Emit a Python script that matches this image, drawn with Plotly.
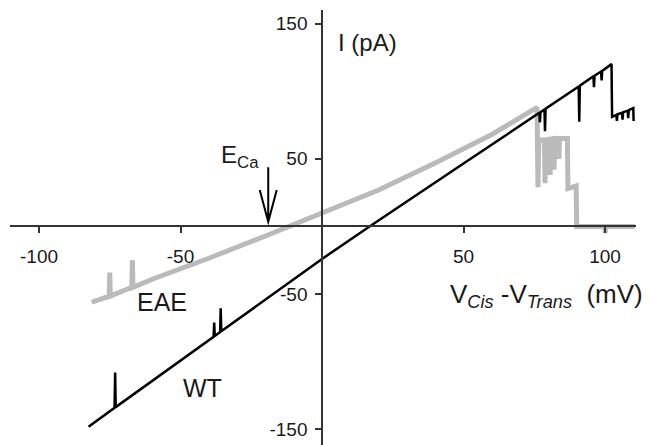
import plotly.graph_objects as go

# I-V traces (voltage in mV, current in pA)
wt_v = [-82.5, -73.3, -73.1, -72.9, -38.3, -38.1, -37.9, -36.0, -35.8, -35.6,
        0, 16.8, 50, 76.8, 77.0, 77.2, 78.6, 78.8, 79.0, 90.7, 90.9, 91.1,
        95.9, 96.1, 96.3, 98.6, 98.8, 99.0, 102.3, 102.5, 104, 104.2, 104.4,
        106, 106.2, 106.4, 108, 108.2, 108.4, 110, 110.1]
wt_i = [-148, -134, -108, -133.5, -81.5, -71, -81, -78, -60.5, -77.5,
        -24, 0, 46.5, 84, 77, 84.5, 86.5, 70.5, 87, 103.5, 77.5, 104,
        111, 103, 111.5, 114.5, 108, 115, 120, 81, 82.5, 78, 83,
        84, 79, 84.5, 85.5, 80, 86, 87.5, 78]

eae_v = [-81.4, -75.2, -75.0, -74.8, -67.2, -67.0, -66.8, -60, -40, -20, -13,
         0, 20, 40, 60, 76, 76.3, 76.6, 78.6, 78.8, 79.0, 80.4, 80.6, 80.8,
         81.8, 82.0, 82.2, 83.5, 83.7, 83.9, 86.7, 86.9, 89.8, 90.0, 100,
         100.1, 100.2, 110.6]
eae_i = [-56, -51.5, -34, -51.5, -45, -25, -45, -39, -23.5, -7, -1,
         9.5, 27, 47, 68, 88, 29, 64, 64, 32, 64, 64.5, 38, 64.5,
         65, 42, 65, 65, 50, 65, 65, 28, 30, 0, 0,
         -5, 0, 0]

x_ticks = [-100, -50, 50, 100]
x_labels = ["-100", "-50", "50", "100"]
y_ticks = [150, 50, -50, -150]
y_labels = ["150", "50", "-50", "-150"]

x_min, x_max = -110.25, 110.95
y_min, y_max = -161.5, 160.0

font = "Arial, Liberation Sans, sans-serif"

fig = go.Figure()
fig.add_trace(go.Scatter(x=eae_v, y=eae_i, mode="lines",
                         line=dict(color="#bababa", width=5), name="EAE"))
fig.add_trace(go.Scatter(x=wt_v, y=wt_i, mode="lines",
                         line=dict(color="#000000", width=2.5), name="WT"))

# E_Ca arrow (open V head)
fig.add_shape(type="path", xref="x", yref="y",
              path="M -19,43.7 L -19,3.5 M -22,27 L -19,3.5 L -16,27",
              line=dict(color="black", width=2))

ann = dict(xref="x", yref="y", showarrow=False)
fig.add_annotation(x=4.9, y=136, text="I (pA)", xanchor="left", yanchor="middle",
                   font=dict(family=font, size=24, color="#1a1a1a"), **ann)
fig.add_annotation(x=44.5, y=-51,
                   text="V<sub><i>Cis</i></sub> -V<sub><i>Trans</i></sub>&nbsp;&nbsp;(mV)",
                   xanchor="left", yanchor="middle",
                   font=dict(family=font, size=26, color="#1a1a1a"), **ann)
fig.add_annotation(x=-56.7, y=-56, text="EAE", xanchor="center", yanchor="middle",
                   font=dict(family=font, size=25, color="#1a1a1a"), **ann)
fig.add_annotation(x=-42.2, y=-119, text="WT", xanchor="center", yanchor="middle",
                   font=dict(family=font, size=25, color="#1a1a1a"), **ann)
fig.add_annotation(x=-36.5, y=52, text="E<sub>Ca</sub>", xanchor="left", yanchor="middle",
                   font=dict(family=font, size=24, color="#1a1a1a"), **ann)

# page body adds an 8px offset, so margins are trimmed to compensate
fig.update_layout(
    width=651, height=445,
    margin=dict(l=2, r=23, t=2, b=8),
    paper_bgcolor="white", plot_bgcolor="white",
    showlegend=False,
    font=dict(family=font, size=19, color="#1a1a1a"),
    xaxis=dict(range=[x_min, x_max], anchor="free", automargin=False,
               position=(0 - y_min) / (y_max - y_min),
               showgrid=False, zeroline=False, showline=True,
               linecolor="#333333", linewidth=1.5,
               tickmode="array", tickvals=x_ticks, ticktext=x_labels,
               ticks="outside", ticklen=6, tickwidth=1.5, tickcolor="#333333",
               ticklabelstandoff=7),
    yaxis=dict(range=[y_min, y_max], anchor="free", automargin=False,
               position=(0 - x_min) / (x_max - x_min),
               showgrid=False, zeroline=False, showline=True,
               linecolor="#333333", linewidth=1.5,
               tickmode="array", tickvals=y_ticks, ticktext=y_labels,
               ticks="outside", ticklen=6, tickwidth=1.5, tickcolor="#333333",
               ticklabelstandoff=4),
)

fig.write_html("out.html")
